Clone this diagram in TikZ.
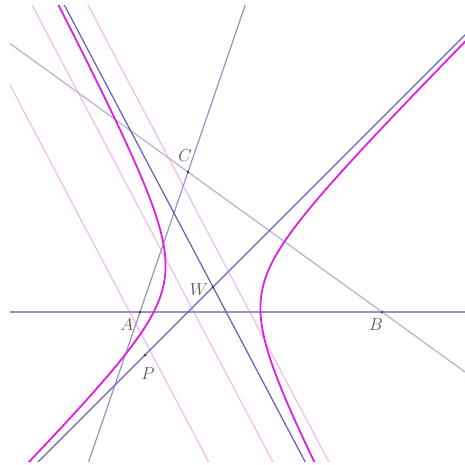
\documentclass[tikz,border=0pt]{standalone}
\usetikzlibrary{calc}
\definecolor{hypcol}{HTML}{E020E0}
\definecolor{asycol}{HTML}{6E66BC}
\definecolor{pinkcol}{HTML}{F2B6F2}
\definecolor{sidecol}{HTML}{9A92C2}
\definecolor{bccol}{HTML}{BAB6D4}
\begin{document}
\begin{tikzpicture}[x=1pt,y=-1pt,
  hyp/.style={draw=hypcol,line width=1.8pt},
  asym/.style={draw=asycol,line width=1.3pt},
  aux/.style={draw=pinkcol,line width=1.1pt},
  side/.style={draw=sidecol,line width=1.2pt},
  sidelight/.style={draw=bccol,line width=1.3pt},
  ptdot/.style={circle,fill=black!75,inner sep=0pt,minimum size=3pt},
  lbl/.style={font=\fontsize{17}{20}\selectfont,text=black!65,inner sep=0pt}]
\useasboundingbox (0,0) rectangle (465,464);
\coordinate (A) at (140,312);
\coordinate (B) at (382,312);
\coordinate (C) at (188,172);
\coordinate (W) at (213,287);
\coordinate (P) at (145,355);
\coordinate (p1s) at (-42.7,-15);
\coordinate (p1e) at (218.2,480);
\coordinate (p2s) at (21.5,-15);
\coordinate (p2e) at (282.3,480);
\coordinate (p3s) at (77.5,-15);
\coordinate (p3e) at (338.3,480);
\coordinate (a1s) at (53.8,-15);
\coordinate (a1e) at (314.7,480);
\begin{scope}
\clip (10,5) rectangle (465,461);
\draw[aux] (p1s) -- (p1e);
\draw[aux] (p2s) -- (p2e);
\draw[aux] (p3s) -- (p3e);
\draw[side] ($(A)!-1!(B)$) -- ($(B)!-1!(A)$);
\draw[side] ($(A)!-2!(C)$) -- ($(C)!-2!(A)$);
\draw[sidelight] ($(B)!-1!(C)$) -- ($(C)!-1!(B)$);
\draw[asym] (a1s) -- (a1e);
\draw[asym] ($(P)!-3!(W)$) -- ($(W)!-4!(P)$);
\draw[hyp] plot[variable=\t,domain=-2.3:2.1,samples=120,smooth]
  ({213-49*cosh(\t)*0.98876-66.4*sinh(\t)*0.1495},{287-49*cosh(\t)*0.1495+66.4*sinh(\t)*0.98876});
\draw[hyp] plot[variable=\t,domain=-2.4:1.9,samples=120,smooth]
  ({213+49*cosh(\t)*0.98876-66.4*sinh(\t)*0.1495},{287+49*cosh(\t)*0.1495+66.4*sinh(\t)*0.98876});
\end{scope}
\node[ptdot] (dA) at (A) {};
\node[ptdot] (dB) at (B) {};
\node[ptdot] (dC) at (C) {};
\node[ptdot] (dW) at (W) {};
\node[ptdot] (dP) at (P) {};
\node[lbl] (lA) at (127,325) {$A$};
\node[lbl] (lB) at (376,325) {$B$};
\node[lbl] (lC) at (185,156) {$C$};
\node[lbl] (lW) at (199,290) {$W$};
\node[lbl] (lP) at (148,374) {$P$};
\end{tikzpicture}
\end{document}
